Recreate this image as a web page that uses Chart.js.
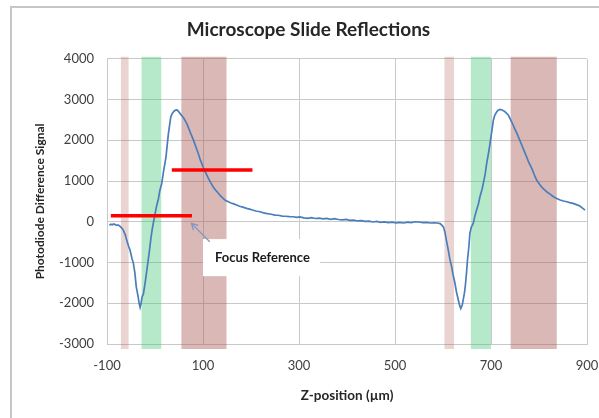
<!DOCTYPE html>
<html><head><meta charset="utf-8">
<script src="https://cdn.jsdelivr.net/npm/chart.js@4"></script>
<style>
html,body{margin:0;padding:0;background:#fff;overflow:hidden;width:599px;height:418px;}
#frame{position:absolute;left:10px;top:6px;width:800px;height:600px;border:2px solid #c6c6c6;}
#wrap{position:absolute;left:0;top:0;width:599px;height:418px;}
</style></head><body>
<div id="frame"></div>
<div id="wrap"><canvas id="c" width="599" height="418"></canvas></div>
<script>
// ---- data ----
const zPosition = [-95,-92,-89,-86,-83,-80,-77,-74,-71,-68,-66,-62,-59,-55,-52,-48,-45,-42,-39,-35,-33,-31,-29,-27,-24,-20,-16,-12,-9,-6,-3,0,3,7,10,14,18,23,26,28,31,33,36,40,43,46,49,52,56,60,65,69,74,80,85,90,95,100,105,111,116,121,126,132,137,142,147,153,158,164,170,176,183,191,197,203,210,219,226,234,242,250,257,265,272,280,288,295,302,310,318,326,334,342,350,358,366,374,382,390,398,406,414,422,430,438,446,454,462,470,478,486,494,502,510,518,526,534,542,550,558,566,574,582,588,594,598,601,604,607,611,614,618,621,625,628,632,635,637,640,642,645,647,649,651,654,656,659,663,666,670,674,677,681,684,688,691,695,698,702,705,708,712,715,719,723,727,731,736,741,746,750,754,759,764,769,774,779,785,790,795,800,805,810,816,823,830,837,844,851,858,864,871,878,885,890,896];
const signal = [-85,-60,-75,-55,-70,-90,-80,-100,-130,-170,-204,-320,-450,-600,-695,-900,-1020,-1250,-1600,-1850,-2000,-2100,-2000,-1850,-1760,-1450,-1100,-750,-450,-200,0,180,370,560,760,940,1250,1600,1950,2170,2420,2580,2660,2720,2740,2745,2710,2660,2600,2540,2440,2330,2180,2010,1840,1680,1500,1350,1220,1070,960,860,780,700,630,575,520,490,460,440,410,380,360,330,310,290,265,245,220,200,185,165,160,140,135,125,123,110,120,95,84,100,80,90,70,85,60,75,55,45,60,35,40,20,30,10,15,-5,10,-15,-5,-20,-10,-25,-15,-30,-10,-20,0,-5,-20,-15,-30,-25,-30,-45,-90,-130,-250,-450,-695,-900,-1105,-1300,-1515,-1720,-1925,-2070,-2130,-2050,-1925,-1720,-1515,-1250,-940,-600,-285,-130,-40,120,287,450,614,780,943,1180,1435,1700,1926,2250,2500,2620,2700,2740,2760,2745,2720,2680,2620,2500,2375,2270,2170,2030,1885,1740,1600,1450,1310,1160,1025,940,860,800,737,680,614,570,533,510,491,470,452,420,386,340,287];
const xTicks = [-100, 100, 300, 500, 700, 900];
const yTicks = [-3000, -2000, -1000, 0, 1000, 2000, 3000, 4000];
const paleBands  = [[-71, -55], [603, 623]];
const greenBands = [[-28, 13], [658, 700]];
const darkBands  = [[55, 149], [741, 837]];
const focusLineX = [-92, 77];   const focusLineY = 150;
const refLineX   = [35, 203];   const refLineY   = 1270;
const noteText = 'Focus Reference';

// ---- styles ----
const FONT = 'Lato, "Open Sans", "Liberation Sans", sans-serif';
const GRID = '#c9c9c9';

const overlay = {
  id: 'overlay',
  beforeDatasetsDraw(chart) {
    const {ctx, chartArea: a, scales: {x, y}} = chart;
    ctx.save();
    const drawSet = (bands, color) => bands.forEach(([s, e]) => {
      const x0 = x.getPixelForValue(s), x1 = x.getPixelForValue(e);
      ctx.fillStyle = color;
      ctx.fillRect(x0, a.top - 2, x1 - x0, a.bottom - a.top + 7);
    });
    drawSet(paleBands, 'rgba(175,95,90,0.27)');
    drawSet(greenBands, 'rgba(70,200,120,0.40)');
    drawSet(darkBands, 'rgba(170,90,85,0.43)');
    // label box (data coords)
    const bx0 = x.getPixelForValue(100), bx1 = x.getPixelForValue(344);
    const by0 = y.getPixelForValue(-425), by1 = y.getPixelForValue(-1335);
    ctx.fillStyle = '#ffffff';
    ctx.fillRect(bx0, by0, bx1 - bx0, by1 - by0);
    ctx.fillStyle = '#1a1a1a';
    ctx.font = 'bold 13px ' + FONT;
    ctx.textBaseline = 'middle';
    ctx.textAlign = 'left';
    ctx.fillText(noteText, bx0 + 12, (by0 + by1) / 2);
    ctx.restore();
  },
  afterDatasetsDraw(chart) {
    const {ctx, scales: {x, y}} = chart;
    const tx = x.getPixelForValue(76), ty = y.getPixelForValue(-40);
    const sx = x.getPixelForValue(114), sy = y.getPixelForValue(-490);
    ctx.save();
    ctx.strokeStyle = '#7b98c4';
    ctx.lineWidth = 1.3;
    ctx.beginPath(); ctx.moveTo(sx, sy); ctx.lineTo(tx, ty); ctx.stroke();
    const ang = Math.atan2(ty - sy, tx - sx), L = 7;
    ctx.beginPath();
    ctx.moveTo(tx - L * Math.cos(ang - 0.5), ty - L * Math.sin(ang - 0.5));
    ctx.lineTo(tx, ty);
    ctx.lineTo(tx - L * Math.cos(ang + 0.5), ty - L * Math.sin(ang + 0.5));
    ctx.stroke();
    ctx.restore();
  }
};

new Chart(document.getElementById('c'), {
  type: 'line',
  data: {
    datasets: [
      { label: 'Red focus', data: focusLineX.map(v => ({x: v, y: focusLineY})), borderColor: '#ff0000', borderWidth: 3.5, pointRadius: 0, order: 0 },
      { label: 'Red ref', data: refLineX.map(v => ({x: v, y: refLineY})), borderColor: '#ff0000', borderWidth: 3.5, pointRadius: 0, order: 0 },
      { label: 'Signal', data: zPosition.map((v, i) => ({x: v, y: signal[i]})), borderColor: '#4a7ebb', borderWidth: 1.7, pointRadius: 0, tension: 0, order: 1 }
    ]
  },
  options: {
    responsive: false,
    devicePixelRatio: 1,
    animation: false,
    events: [],
    layout: { padding: { left: 30, right: 12, top: 0, bottom: 0 } },
    plugins: {
      legend: { display: false },
      tooltip: { enabled: false },
      title: {
        display: true, text: 'Microscope Slide Reflections', color: '#262626',
        font: { family: FONT, size: 19, weight: 'bold' },
        padding: { top: 18, bottom: 18 }
      }
    },
    scales: {
      x: {
        type: 'linear', min: -100, max: 900,
        afterBuildTicks: s => { s.ticks = xTicks.map(v => ({value: v})); },
        afterFit: s => { s.height = 74; s.paddingLeft = 0; s.paddingRight = 0; },
        ticks: { color: '#404040', font: { family: FONT, size: 13 }, padding: 14, maxRotation: 0, autoSkip: false, callback: v => String(v) },
        grid: { color: GRID, drawTicks: false },
        border: { color: GRID },
        title: { display: true, text: 'Z-position (µm)', color: '#262626', font: { family: FONT, size: 13.5, weight: 'bold' }, padding: { top: 0, bottom: 14 } }
      },
      y: {
        min: -3000, max: 4000,
        afterBuildTicks: s => { s.ticks = yTicks.map(v => ({value: v})); },
        afterFit: s => { s.width = 77; s.paddingTop = 0; s.paddingBottom = 0; },
        ticks: { color: '#404040', font: { family: FONT, size: 13 }, padding: 13, callback: v => String(v) },
        grid: { color: GRID, drawTicks: false },
        border: { color: GRID },
        title: { display: true, text: 'Photodiode Difference Signal', color: '#262626', font: { family: FONT, size: 12, weight: 'bold' }, padding: { top: 3, bottom: 0 } }
      }
    }
  },
  plugins: [overlay]
});
</script>
</body></html>
